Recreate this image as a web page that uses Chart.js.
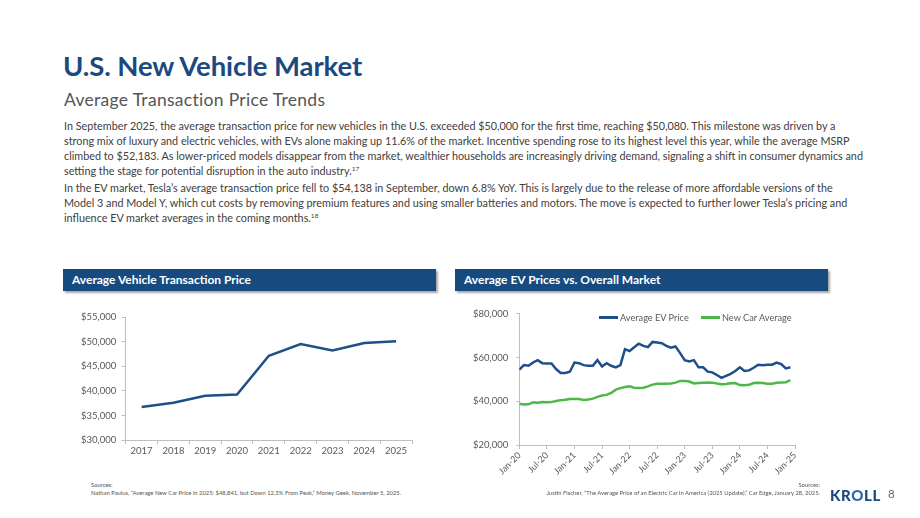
<!DOCTYPE html>
<html><head><meta charset="utf-8">
<script src="https://cdn.jsdelivr.net/npm/chart.js@4.4.0/dist/chart.umd.min.js"></script>
<style>
body{margin:0;width:920px;height:518px;background:#fff;font-family:Lato,'Open Sans',sans-serif;position:relative;overflow:hidden}
.abs{position:absolute;white-space:nowrap}
#title{left:63px;top:49px;font-size:27.5px;font-weight:700;color:#1b4a80;letter-spacing:-0.1px}
#sub{left:64px;top:89px;font-size:17.5px;color:#555;letter-spacing:0.3px}
.p{left:64px;font-size:10.8px;color:#404040;line-height:15px}
sup{font-size:6.5px;vertical-align:4px;line-height:0}
.hdr{top:269px;height:22px;background:#174a7f;color:#fff;font-weight:700;font-size:12px;line-height:22px;padding-left:9px;box-sizing:border-box;box-shadow:2px 2px 2px rgba(0,0,0,0.35)}
.src{font-size:5.85px;color:#555;line-height:8px}
.leg{font-size:9.2px;color:#595959;top:312px;line-height:12px}
.sw{display:inline-block;width:19px;height:3px;vertical-align:middle;margin-right:2px;position:relative;top:-1px}
canvas{position:absolute}
</style></head>
<body>
<div id="title" class="abs">U.S. New Vehicle Market</div>
<div id="sub" class="abs">Average Transaction Price Trends</div>
<div class="abs p" style="top:118px">In September 2025, the average transaction price for new vehicles in the U.S. exceeded $50,000 for the first time, reaching $50,080. This milestone was driven by a<br>strong mix of luxury and electric vehicles, with EVs alone making up 11.6% of the market. Incentive spending rose to its highest level this year, while the average MSRP<br>climbed to $52,183. As lower-priced models disappear from the market, wealthier households are increasingly driving demand, signaling a shift in consumer dynamics and<br>setting the stage for potential disruption in the auto industry.<sup>17</sup></div>
<div class="abs p" style="top:180px">In the EV market, Tesla’s average transaction price fell to $54,138 in September, down 6.8% YoY. This is largely due to the release of more affordable versions of the<br>Model 3 and Model Y, which cut costs by removing premium features and using smaller batteries and motors. The move is expected to further lower Tesla’s pricing and<br>influence EV market averages in the coming months.<sup>18</sup></div>

<div class="abs hdr" style="left:63px;width:373px">Average Vehicle Transaction Price</div>
<div class="abs hdr" style="left:455px;width:373px">Average EV Prices vs. Overall Market</div>

<canvas id="c1" width="356" height="156" style="left:60px;top:306px"></canvas>
<canvas id="c2" width="350" height="190" style="left:455px;top:300px"></canvas>

<div class="abs leg" style="left:599px"><span class="sw" style="background:#1f4e89"></span>Average EV Price</div>
<div class="abs leg" style="left:701px"><span class="sw" style="background:#4db848"></span>New Car Average</div>

<div class="abs src" style="left:91px;top:481px">Sources:<br>Nathan Paulus, “Average New Car Price in 2025: $48,841, but Down 12.3% From Peak,” Money Geek, November 5, 2025.</div>
<div class="abs src" style="right:100px;top:481px;text-align:right">Sources:<br>Justin Fischer, “The Average Price of an Electric Car in America (2025 Update),” Car Edge, January 28, 2025.</div>
<div class="abs" style="left:830px;top:486px;font-size:15px;font-weight:900;color:#1b4a80;letter-spacing:0.6px">KR<span style="color:#2a6aa8">O</span>LL</div>
<div class="abs" style="left:888px;top:487px;font-size:11.5px;color:#666">8</div>

<script>
// ---- Data ----
const years = ['2017','2018','2019','2020','2021','2022','2023','2024','2025'];
const avgTransactionPrice = [36700, 37570, 38990, 39260, 47160, 49530, 48240, 49730, 50080];

// monthly, Jan-20 .. Dec-24
const evPrice = [54400, 56500, 56200, 57700, 58800, 57400, 57300, 57300, 54700, 52900, 52900, 53500,
                 57700, 57400, 56500, 56200, 56200, 58800, 55900, 57400, 56200, 55500, 56500, 63800,
                 62900, 64700, 66300, 65300, 64700, 67100, 66800, 66500, 65300, 64500, 65000, 62000,
                 58800, 58200, 58800, 55500, 55500, 53500, 53200, 52000, 50700, 51600, 52500, 53800,
                 55500, 53800, 54100, 55300, 56700, 56500, 56700, 56700, 57700, 57000, 55000, 55500];
const newCarAverage = [38800, 38500, 38600, 39500, 39300, 39600, 39500, 39600, 40100, 40500, 40700, 41000,
                       41000, 41000, 40600, 40800, 41200, 42000, 42600, 42900, 43800, 45300, 46000, 46500,
                       46800, 46200, 46000, 46200, 46800, 47600, 48000, 48000, 48000, 48100, 48500, 49300,
                       49300, 49000, 48100, 48300, 48500, 48600, 48500, 48100, 47800, 47900, 48200, 48300,
                       47400, 47300, 47500, 48300, 48500, 48300, 48000, 48000, 48400, 48600, 48700, 49600];
const monthTickLabels = ['Jan-20','Jul-20','Jan-21','Jul-21','Jan-22','Jul-22','Jan-23','Jul-23','Jan-24','Jul-24','Jan-25'];

// ---- Charts ----
Chart.defaults.font.family = 'Lato';
Chart.defaults.color = '#595959';
const money = v => '$' + Number(v).toLocaleString('en-US');
const axisGray = '#bfbfbf';

new Chart(document.getElementById('c1'), {
  type: 'line',
  data: { labels: years, datasets: [{ data: avgTransactionPrice, borderColor: '#1f4e89', borderWidth: 2.5, pointRadius: 0, tension: 0 }] },
  options: {
    responsive: false, animation: false,
    plugins: { legend: { display: false }, tooltip: { enabled: false } },
    layout: { padding: { top: 10, right: 4, left: 0, bottom: 0 } },
    scales: {
      x: { offset: true,
           grid: { offset: true, drawOnChartArea: false, tickLength: 4, color: axisGray },
           border: { color: axisGray },
           ticks: { font: { size: 9.5 }, color: '#595959', padding: 1.5, maxRotation: 0 },
           afterFit(s) { s.height = 22; } },
      y: { min: 30000, max: 55000,
           ticks: { stepSize: 5000, callback: money, font: { size: 9.5 }, color: '#595959', padding: 5.5 },
           grid: { drawOnChartArea: false, tickLength: 4, color: axisGray },
           border: { color: axisGray },
           afterFit(s) { s.width = 65.7; } }
    }
  }
});

const toXY = arr => arr.map((v, i) => ({ x: i, y: v }));
new Chart(document.getElementById('c2'), {
  type: 'line',
  data: { datasets: [
    { label: 'Average EV Price', data: toXY(evPrice), borderColor: '#1f4e89', borderWidth: 2.5, pointRadius: 0, tension: 0 },
    { label: 'New Car Average', data: toXY(newCarAverage), borderColor: '#4db848', borderWidth: 2.5, pointRadius: 0, tension: 0 }
  ] },
  options: {
    responsive: false, animation: false,
    plugins: { legend: { display: false }, tooltip: { enabled: false } },
    layout: { padding: { top: 12, right: 10, left: 0, bottom: 0 } },
    scales: {
      x: { type: 'linear', min: 0, max: 60,
           grid: { drawOnChartArea: false, tickLength: 4, color: axisGray },
           border: { color: axisGray },
           ticks: { stepSize: 6, autoSkip: false, minRotation: 45, maxRotation: 45, font: { size: 9 }, color: '#595959', padding: 1,
                    callback: v => monthTickLabels[Math.round(v / 6)] },
           afterFit(s) { s.height = 45; } },
      y: { min: 20000, max: 80000,
           ticks: { stepSize: 20000, callback: money, font: { size: 9.5 }, color: '#595959', padding: 8 },
           grid: { drawOnChartArea: false, tickLength: 3, color: axisGray },
           border: { color: axisGray },
           afterFit(s) { s.width = 64.3; } }
    }
  }
});
</script>
</body></html>
